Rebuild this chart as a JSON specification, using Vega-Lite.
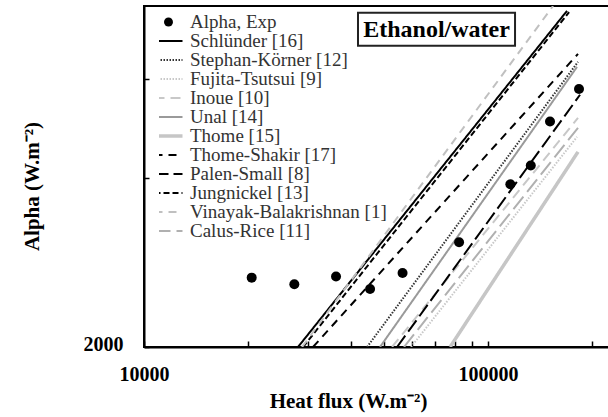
{
  "$schema": "https://vega.github.io/schema/vega-lite/v6.json",
  "autosize": {"type": "none"},
  "width": 466,
  "height": 341,
  "padding": {"left": 144, "top": 6, "right": 0, "bottom": 70},
  "background": "white",
  "config": {
    "view": {"stroke": "#000", "strokeWidth": 2},
    "font": "Liberation Serif",
    "axis": {
      "grid": false,
      "domainColor": "#000",
      "domainWidth": 2,
      "tickColor": "#000",
      "tickWidth": 1.5,
      "labelFont": "Liberation Serif",
      "labelFontWeight": "bold",
      "labelFontSize": 20,
      "labelColor": "#000",
      "labelFlush": false,
      "labelOverlap": false,
      "titleFont": "Liberation Serif",
      "titleFontWeight": "bold",
      "titleFontSize": 21,
      "titleColor": "#000"
    }
  },
  "datasets": {
    "exp": [
      {"series": "Alpha, Exp", "q": 20560, "a": 2658},
      {"series": "Alpha, Exp", "q": 27350, "a": 2587},
      {"series": "Alpha, Exp", "q": 36150, "a": 2670},
      {"series": "Alpha, Exp", "q": 45400, "a": 2538},
      {"series": "Alpha, Exp", "q": 56430, "a": 2710},
      {"series": "Alpha, Exp", "q": 82380, "a": 3074},
      {"series": "Alpha, Exp", "q": 116100, "a": 3900},
      {"series": "Alpha, Exp", "q": 133100, "a": 4210},
      {"series": "Alpha, Exp", "q": 151400, "a": 5043},
      {"series": "Alpha, Exp", "q": 183800, "a": 5762}
    ],
    "models": [
      {"series": "Schlünder [16]", "q": 28030, "a": 2000},
      {"series": "Schlünder [16]", "q": 169700, "a": 7942},
      {"series": "Stephan-Körner [12]", "q": 44500, "a": 2000},
      {"series": "Stephan-Körner [12]", "q": 182600, "a": 6442},
      {"series": "Fujita-Tsutsui [9]", "q": 59730, "a": 2000},
      {"series": "Fujita-Tsutsui [9]", "q": 181400, "a": 4735},
      {"series": "Inoue [10]", "q": 52600, "a": 2000},
      {"series": "Inoue [10]", "q": 182600, "a": 5120},
      {"series": "Unal [14]", "q": 48530, "a": 2000},
      {"series": "Unal [14]", "q": 181400, "a": 6310},
      {"series": "Thome-Shakir [17]", "q": 30990, "a": 2000},
      {"series": "Thome-Shakir [17]", "q": 182600, "a": 6656},
      {"series": "Palen-Small [8]", "q": 54390, "a": 2000},
      {"series": "Palen-Small [8]", "q": 185100, "a": 5628},
      {"series": "Jungnickel [13]", "q": 29000, "a": 2000},
      {"series": "Jungnickel [13]", "q": 172000, "a": 7900},
      {"series": "Vinayak-Balakrishnan [1]", "q": 28800, "a": 2000},
      {"series": "Vinayak-Balakrishnan [1]", "q": 154500, "a": 8100},
      {"series": "Calus-Rice [11]", "q": 56990, "a": 2000},
      {"series": "Calus-Rice [11]", "q": 182600, "a": 4914}
    ],
    "thome": [
      {"series": "Thome [15]", "q": 77570, "a": 2000},
      {"series": "Thome [15]", "q": 182600, "a": 4453}
    ],
    "note": [
      {"label": "Ethanol/water", "q": 41880, "q2": 119800, "qc": 70830, "a": 7877, "a2": 6880, "ac": 7345}
    ]
  },
  "layer": [
    {
      "data": {"name": "models"},
      "mark": {"type": "line", "strokeWidth": 2, "clip": true},
      "encoding": {
        "x": {
          "field": "q", "type": "quantitative",
          "scale": {"type": "log", "domain": [10000, 226200], "nice": false},
          "axis": {
            "values": [10000, 20000, 30000, 40000, 50000, 60000, 70000, 80000, 90000, 100000, 200000],
            "labelExpr": "datum.value === 10000 ? '10000' : (datum.value === 100000 ? '100000' : '')",
            "tickSize": -6,
            "labelPadding": 23,
            "title": "Heat flux (W.m⁻²)",
            "titleX": 204,
            "titleY": 54,
            "titleBaseline": "middle",
            "titleAnchor": null,
            "titleAlign": "center"
          }
        },
        "y": {
          "field": "a", "type": "quantitative",
          "scale": {"type": "log", "domain": [2000, 8100], "nice": false},
          "axis": {
            "values": [2000, 4000, 6000],
            "labelExpr": "datum.value === 2000 ? '2000' : ''",
            "tickSize": -5,
            "labelPadding": 26,
            "labelBaseline": "bottom",
            "labelOffset": 7,
            "title": "Alpha (W.m⁻²)",
            "titleX": -112,
            "titleY": 180,
            "titleAngle": -90,
            "titleAlign": "center",
            "titleBaseline": "middle"
          }
        },
        "detail": {"field": "series"},
        "color": {
          "field": "series", "type": "nominal",
          "scale": {
            "domain": ["Alpha, Exp", "Schlünder [16]", "Stephan-Körner [12]", "Fujita-Tsutsui [9]", "Inoue [10]", "Unal [14]", "Thome [15]", "Thome-Shakir [17]", "Palen-Small [8]", "Jungnickel [13]", "Vinayak-Balakrishnan [1]", "Calus-Rice [11]"],
            "range": ["#000000", "#000000", "#333333", "#c8c8c8", "#c8c8c8", "#9a9a9a", "#c6c6c6", "#000000", "#000000", "#000000", "#c0c0c0", "#b0b0b0"]
          },
          "legend": {
            "title": null,
            "orient": "none",
            "legendX": 15,
            "legendY": 7,
            "padding": 0,
            "symbolSize": 784,
            "symbolStrokeWidth": 2,
            "labelOffset": 12,
            "labelFont": "Liberation Serif",
            "labelFontSize": 19,
            "labelColor": "#333333",
            "labelLimit": 400,
            "clipHeight": 18,
            "rowPadding": 0,
            "encode": {
              "symbols": {
                "update": {
                  "shape": {"signal": "datum.value === 'Alpha, Exp' ? 'circle' : 'stroke'"},
                  "size": {"signal": "datum.value === 'Alpha, Exp' ? 80 : 784"},
                  "fill": {"signal": "datum.value === 'Alpha, Exp' ? '#000000' : 'transparent'"},
                  "strokeWidth": {"signal": "datum.value === 'Thome [15]' ? 3.5 : (datum.value === 'Alpha, Exp' ? 0 : 2)"}
                }
              }
            }
          }
        },
        "strokeDash": {
          "field": "series", "type": "nominal",
          "scale": {
            "domain": ["Alpha, Exp", "Schlünder [16]", "Stephan-Körner [12]", "Fujita-Tsutsui [9]", "Inoue [10]", "Unal [14]", "Thome [15]", "Thome-Shakir [17]", "Palen-Small [8]", "Jungnickel [13]", "Vinayak-Balakrishnan [1]", "Calus-Rice [11]"],
            "range": [[1, 0], [1, 0], [1.5, 1.5], [1.5, 1.5], [10, 6], [1, 0], [1, 0], [8, 6], [14, 5], [6, 3], [8, 6], [16, 6]]
          },
          "legend": {"title": null}
        }
      }
    },
    {
      "data": {"name": "thome"},
      "mark": {"type": "line", "strokeWidth": 3.5, "clip": true},
      "encoding": {
        "x": {"field": "q", "type": "quantitative"},
        "y": {"field": "a", "type": "quantitative"},
        "color": {"field": "series", "type": "nominal"},
        "strokeDash": {"field": "series", "type": "nominal"}
      }
    },
    {
      "data": {"name": "exp"},
      "mark": {"type": "point", "filled": true, "size": 100, "opacity": 1, "shape": "circle"},
      "encoding": {
        "x": {"field": "q", "type": "quantitative"},
        "y": {"field": "a", "type": "quantitative"},
        "color": {"field": "series", "type": "nominal"}
      }
    },
    {
      "data": {"name": "note"},
      "mark": {"type": "rect", "fill": "white", "stroke": "#222222", "strokeWidth": 2},
      "encoding": {
        "x": {"field": "q", "type": "quantitative"},
        "x2": {"field": "q2"},
        "y": {"field": "a", "type": "quantitative"},
        "y2": {"field": "a2"}
      }
    },
    {
      "data": {"name": "note"},
      "mark": {"type": "text", "font": "Liberation Serif", "fontWeight": "bold", "fontSize": 24, "color": "#000", "align": "center", "baseline": "middle"},
      "encoding": {
        "x": {"field": "qc", "type": "quantitative"},
        "y": {"field": "ac", "type": "quantitative"},
        "text": {"field": "label"}
      }
    }
  ]
}
